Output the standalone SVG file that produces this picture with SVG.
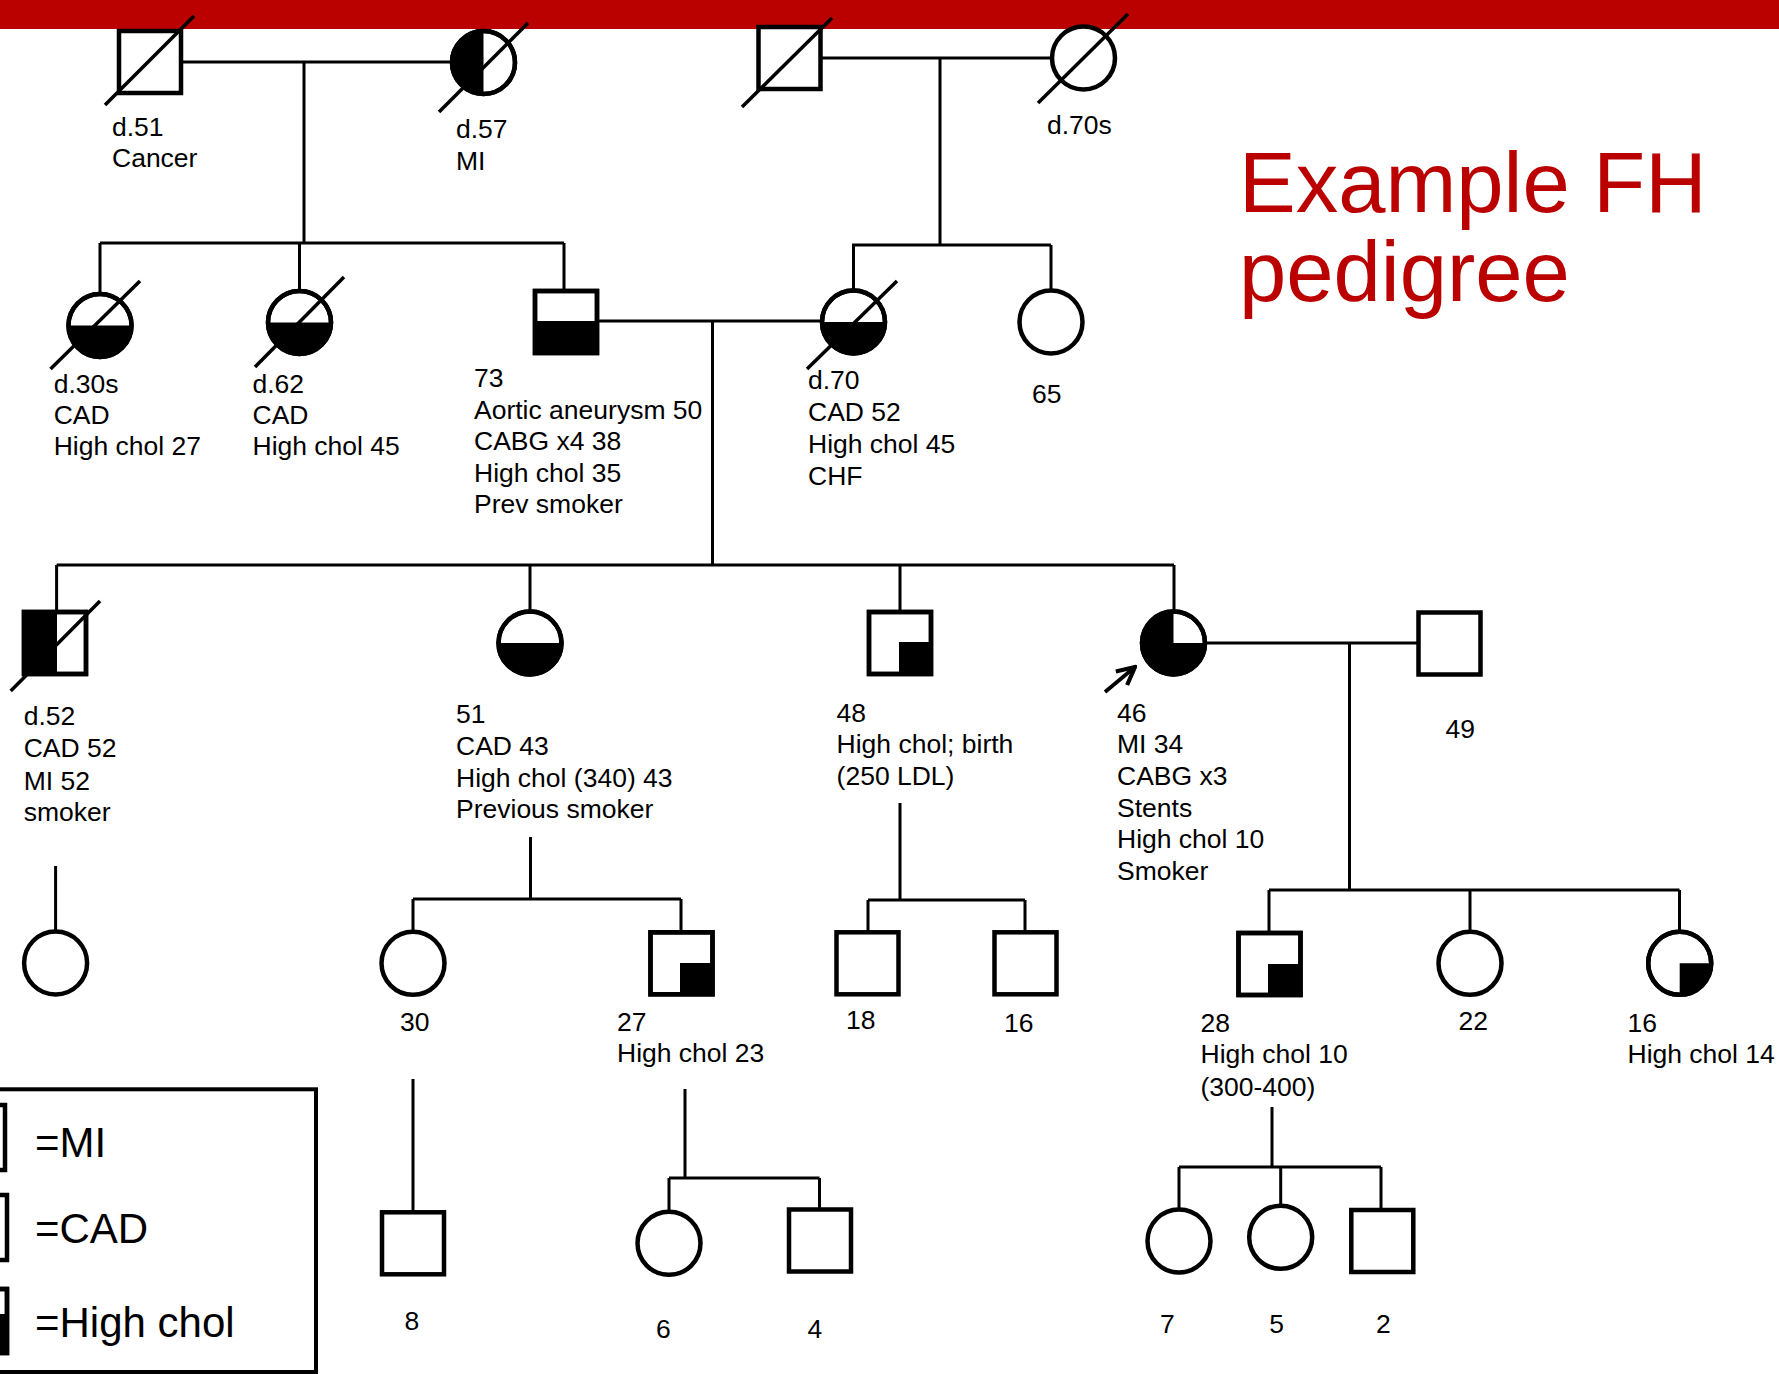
<svg xmlns="http://www.w3.org/2000/svg" width="1779" height="1374" viewBox="0 0 1779 1374">
<style>
.sym{fill:#fff;stroke:#000;stroke-width:4.5}
.out{fill:none;stroke:#000;stroke-width:4.5}
.blk{fill:#000;stroke:none}
.ln{stroke:#000;stroke-width:3;fill:none}
.dead{stroke:#000;stroke-width:3.5}
.lbl{font-family:"Liberation Sans",Arial,sans-serif;font-size:26.5px;fill:#000}
.leg{font-family:"Liberation Sans",Arial,sans-serif;font-size:42px;fill:#000}
.title{font-family:"Liberation Sans",Arial,sans-serif;font-size:85px;fill:#BB0000}
</style>
<defs>
<marker id="arr" viewBox="0 0 10 10" refX="9" refY="5" markerWidth="22" markerHeight="22" markerUnits="userSpaceOnUse" orient="auto">
<path d="M1,1 L9,5 L1,9" fill="none" stroke="#000" stroke-width="1.9"/>
</marker>
</defs>
<rect x="0" y="0" width="1779" height="29" fill="#BB0000"/>
<g id="title">
<text class="title" x="1239" y="212">Example FH</text>
<text class="title" x="1239" y="300.7">pedigree</text>
</g>
<g id="connectors">
<path class="ln" d="M181,62 H452 M304,62 V243 M100,243 H564 M100,243 V294 M299.5,243 V291 M564,243 V291"/>
<path class="ln" d="M820.5,58 H1052 M940,58 V245 M852,245 H1051 M853.5,245 V290.5 M1051,245 V290.5"/>
<path class="ln" d="M597,321 H822 M712.5,321 V565 M56.6,565 H1174 M56.6,565 V612 M530,565 V611.5 M900,565 V612 M1174,565 V611.5"/>
<path class="ln" d="M1205,643 H1418.5 M1349.5,643 V890 M1269,890 H1679.5 M1269,890 V933 M1470,890 V931.8 M1679.5,890 V931.8"/>
<path class="ln" d="M55.6,866 V931.5"/>
<path class="ln" d="M530.5,837 V899 M413,899 H681 M413,899 V931.8 M681,899 V932.3"/>
<path class="ln" d="M900,803 V900 M868,900 H1025 M868,900 V932.3 M1025,900 V932.3"/>
<path class="ln" d="M413,1079 V1212.3"/>
<path class="ln" d="M685,1089 V1178 M669,1178 H819.5 M669,1178 V1211.8 M819.5,1178 V1209.5"/>
<path class="ln" d="M1272,1107 V1167 M1179,1167 H1381 M1179,1167 V1209.5 M1280.7,1167 V1205.8 M1381,1167 V1210"/>
<line x1="1105" y1="692" x2="1135" y2="667" stroke="#000" stroke-width="3.8" marker-end="url(#arr)"/>
</g>
<g id="A">
<rect class="sym" x="119" y="31" width="62" height="62"/>
<line class="dead" x1="105" y1="105" x2="194" y2="16"/>
<text class="lbl" x="112" y="136">d.51</text>
<text class="lbl" x="112" y="167">Cancer</text>
</g>
<g id="B">
<circle class="sym" cx="483.5" cy="62.5" r="31.5"/>
<path class="blk" d="M483.5,31 A31.5,31.5 0 0 0 483.5,94 Z"/>
<circle class="out" cx="483.5" cy="62.5" r="31.5"/>
<line class="dead" x1="439" y1="112" x2="528" y2="23"/>
<text class="lbl" x="456" y="138">d.57</text>
<text class="lbl" x="456" y="170">MI</text>
</g>
<g id="C">
<rect class="sym" x="758.5" y="27" width="62" height="62"/>
<line class="dead" x1="742" y1="107" x2="832" y2="18"/>
</g>
<g id="D">
<circle class="sym" cx="1083.5" cy="58" r="31.5"/>
<line class="dead" x1="1038" y1="103" x2="1128" y2="14"/>
<text class="lbl" x="1047" y="134">d.70s</text>
</g>
<g id="E">
<circle class="sym" cx="100" cy="325.5" r="31.5"/>
<path class="blk" d="M68.5,325.5 A31.5,31.5 0 0 0 131.5,325.5 Z"/>
<circle class="out" cx="100" cy="325.5" r="31.5"/>
<line class="dead" x1="50.5" y1="369" x2="140" y2="281"/>
<text class="lbl" x="53.7" y="392.7">d.30s</text>
<text class="lbl" x="53.7" y="424">CAD</text>
<text class="lbl" x="53.7" y="455">High chol 27</text>
</g>
<g id="F">
<circle class="sym" cx="299.5" cy="322.5" r="31.5"/>
<path class="blk" d="M268,322.5 A31.5,31.5 0 0 0 331,322.5 Z"/>
<circle class="out" cx="299.5" cy="322.5" r="31.5"/>
<line class="dead" x1="255" y1="367" x2="344" y2="277"/>
<text class="lbl" x="252.5" y="392.7">d.62</text>
<text class="lbl" x="252.5" y="424">CAD</text>
<text class="lbl" x="252.5" y="455">High chol 45</text>
</g>
<g id="G">
<rect class="sym" x="535" y="291" width="62" height="62"/>
<rect class="blk" x="535" y="321" width="62" height="32"/>
<rect class="out" x="535" y="291" width="62" height="62"/>
<text class="lbl" x="474" y="387">73</text>
<text class="lbl" x="474" y="418.5">Aortic aneurysm 50</text>
<text class="lbl" x="474" y="450">CABG x4 38</text>
<text class="lbl" x="474" y="481.7">High chol 35</text>
<text class="lbl" x="474" y="513.3">Prev smoker</text>
</g>
<g id="H">
<circle class="sym" cx="853.5" cy="322" r="31.5"/>
<path class="blk" d="M822,322 A31.5,31.5 0 0 0 885,322 Z"/>
<circle class="out" cx="853.5" cy="322" r="31.5"/>
<line class="dead" x1="807" y1="369" x2="897" y2="281"/>
<text class="lbl" x="808" y="389">d.70</text>
<text class="lbl" x="808" y="420.7">CAD 52</text>
<text class="lbl" x="808" y="452.7">High chol 45</text>
<text class="lbl" x="808" y="485">CHF</text>
</g>
<g id="I">
<circle class="sym" cx="1051" cy="322" r="31.5"/>
<text class="lbl" x="1032" y="402.7">65</text>
</g>
<g id="J">
<rect class="sym" x="24" y="612" width="62" height="62"/>
<rect class="blk" x="24" y="612" width="33" height="62"/>
<rect class="out" x="24" y="612" width="62" height="62"/>
<line class="dead" x1="10.7" y1="691" x2="100" y2="601"/>
<text class="lbl" x="23.7" y="725">d.52</text>
<text class="lbl" x="23.7" y="757.3">CAD 52</text>
<text class="lbl" x="23.7" y="789.5">MI 52</text>
<text class="lbl" x="23.7" y="821">smoker</text>
</g>
<g id="K">
<circle class="sym" cx="530" cy="643" r="31.5"/>
<path class="blk" d="M498.5,643 A31.5,31.5 0 0 0 561.5,643 Z"/>
<circle class="out" cx="530" cy="643" r="31.5"/>
<text class="lbl" x="456" y="722.7">51</text>
<text class="lbl" x="456" y="754.5">CAD 43</text>
<text class="lbl" x="456" y="786.7">High chol (340) 43</text>
<text class="lbl" x="456" y="818.3">Previous smoker</text>
</g>
<g id="L">
<rect class="sym" x="869" y="612" width="62" height="62"/>
<rect class="blk" x="899" y="642" width="32" height="32"/>
<rect class="out" x="869" y="612" width="62" height="62"/>
<text class="lbl" x="836.6" y="721.7">48</text>
<text class="lbl" x="836.6" y="753.3">High chol; birth</text>
<text class="lbl" x="836.6" y="785">(250 LDL)</text>
</g>
<g id="M">
<circle class="sym" cx="1173.5" cy="643" r="31.5"/>
<path class="blk" d="M1173.5,643 L1173.5,611.5 A31.5,31.5 0 1 0 1205,643 Z"/>
<circle class="out" cx="1173.5" cy="643" r="31.5"/>
<text class="lbl" x="1117" y="721.7">46</text>
<text class="lbl" x="1117" y="752.5">MI 34</text>
<text class="lbl" x="1117" y="785">CABG x3</text>
<text class="lbl" x="1117" y="816.7">Stents</text>
<text class="lbl" x="1117" y="848.3">High chol 10</text>
<text class="lbl" x="1117" y="880">Smoker</text>
</g>
<g id="N">
<rect class="sym" x="1418.5" y="612.5" width="62" height="62"/>
<text class="lbl" x="1445.5" y="737.5">49</text>
</g>
<g id="O">
<circle class="sym" cx="55.6" cy="963" r="31.5"/>
</g>
<g id="P">
<circle class="sym" cx="413" cy="963.3" r="31.5"/>
<text class="lbl" x="400" y="1031">30</text>
</g>
<g id="Q">
<rect class="sym" x="650.5" y="932.3" width="62" height="62"/>
<rect class="blk" x="680" y="963" width="32.5" height="31.3"/>
<rect class="out" x="650.5" y="932.3" width="62" height="62"/>
<text class="lbl" x="617" y="1031">27</text>
<text class="lbl" x="617" y="1062">High chol 23</text>
</g>
<g id="R">
<rect class="sym" x="836.5" y="932.3" width="62" height="62"/>
<text class="lbl" x="846" y="1029">18</text>
</g>
<g id="S">
<rect class="sym" x="994.5" y="932.3" width="62" height="62"/>
<text class="lbl" x="1004" y="1031.7">16</text>
</g>
<g id="T">
<rect class="sym" x="1238.5" y="933" width="62" height="62"/>
<rect class="blk" x="1268" y="964" width="32.5" height="31"/>
<rect class="out" x="1238.5" y="933" width="62" height="62"/>
<text class="lbl" x="1200.5" y="1031.7">28</text>
<text class="lbl" x="1200.5" y="1063.3">High chol 10</text>
<text class="lbl" x="1200.5" y="1096">(300-400)</text>
</g>
<g id="U">
<circle class="sym" cx="1470" cy="963.3" r="31.5"/>
<text class="lbl" x="1458.6" y="1030">22</text>
</g>
<g id="V">
<circle class="sym" cx="1679.7" cy="963.3" r="31.5"/>
<path class="blk" d="M1679.7,963.3 L1711.2,963.3 A31.5,31.5 0 0 1 1679.7,994.8 Z"/>
<circle class="out" cx="1679.7" cy="963.3" r="31.5"/>
<text class="lbl" x="1627.5" y="1031.7">16</text>
<text class="lbl" x="1627.5" y="1063.3">High chol 14</text>
</g>
<g id="W">
<rect class="sym" x="382" y="1212.3" width="62" height="62"/>
<text class="lbl" x="404.6" y="1330">8</text>
</g>
<g id="X">
<circle class="sym" cx="669" cy="1243.3" r="31.5"/>
<text class="lbl" x="656" y="1338">6</text>
</g>
<g id="Y">
<rect class="sym" x="789" y="1209.5" width="62" height="62"/>
<text class="lbl" x="807.6" y="1338">4</text>
</g>
<g id="Z1">
<circle class="sym" cx="1179" cy="1241" r="31.5"/>
<text class="lbl" x="1160" y="1333.3">7</text>
</g>
<g id="Z2">
<circle class="sym" cx="1280.7" cy="1237.3" r="31.5"/>
<text class="lbl" x="1269.3" y="1333">5</text>
</g>
<g id="Z3">
<rect class="sym" x="1351.3" y="1210" width="62" height="62"/>
<text class="lbl" x="1376" y="1333">2</text>
</g>
<g id="legend">
<rect x="-10" y="1089.3" width="326" height="282.7" fill="none" stroke="#000" stroke-width="4"/>
<rect class="sym" x="-56" y="1105" width="61" height="65"/>
<rect class="sym" x="-54" y="1195" width="61" height="65"/>
<rect class="sym" x="-54" y="1289" width="61" height="64"/>
<rect class="blk" x="-20" y="1314" width="27" height="39"/>
<rect class="out" x="-54" y="1289" width="61" height="64"/>
<text class="leg" x="35" y="1156.7">=MI</text>
<text class="leg" x="35" y="1243.3">=CAD</text>
<text class="leg" x="35" y="1337.3">=High chol</text>
</g>
</svg>
